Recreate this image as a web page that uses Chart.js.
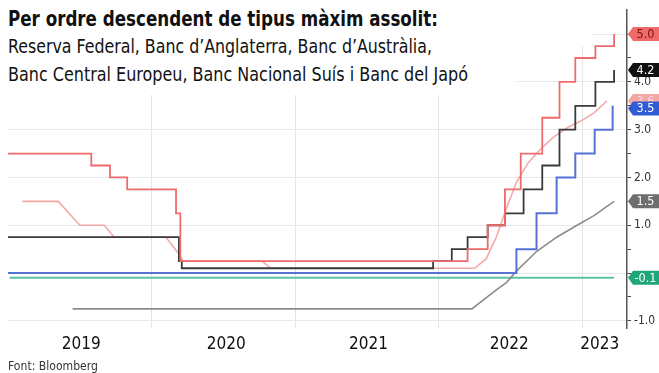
<!DOCTYPE html>
<html><head><meta charset="utf-8">
<script src="https://cdn.jsdelivr.net/npm/chart.js@4.4.0/dist/chart.umd.min.js"></script>
<style>
html,body{margin:0;padding:0;background:#fff;}
#wrap{position:relative;width:659px;height:373px;overflow:hidden;background:#fff;}
canvas{position:absolute;left:0;top:0;}
.mask{position:absolute;background:#fff;}
.txt{position:absolute;left:8px;white-space:nowrap;transform-origin:0 0;color:#111;line-height:1;font-family:'Liberation Sans Narrow','DejaVu Sans Condensed',sans-serif;}
</style></head><body>
<div id="wrap">
<canvas id="c" width="659" height="373"></canvas>
<div class="mask" style="left:0;top:0;width:517px;height:95px"></div>
<div class="mask" style="left:0;top:0;width:592px;height:46px"></div>
<div class="txt" data-w="430" style="top:8px;font-size:21.5px;font-weight:bold">Per ordre descendent de tipus màxim assolit:</div>
<div class="txt" data-w="424" style="top:37px;font-size:19px">Reserva Federal, Banc d’Anglaterra, Banc d’Austràlia,</div>
<div class="txt" data-w="460" style="top:65px;font-size:19px">Banc Central Europeu, Banc Nacional Suís i Banc del Japó</div>
<div class="txt" data-w="90" style="top:359px;font-size:13px;color:#333">Font: Bloomberg</div>
</div>
<script>
// ---- data (x = decimal year) ----
const fedX  = [2019.0, 2019.58, 2019.71, 2019.83, 2020.17, 2020.2, 2022.2, 2022.34, 2022.46, 2022.57, 2022.72, 2022.84, 2022.95, 2023.09, 2023.22];
const fedY  = [2.5, 2.25, 2.0, 1.75, 1.25, 0.25, 0.5, 1.0, 1.75, 2.5, 3.25, 4.0, 4.5, 4.75, 5.0];
const boeX  = [2019.0, 2020.19, 2020.21, 2021.96, 2022.09, 2022.2, 2022.34, 2022.46, 2022.59, 2022.72, 2022.84, 2022.95, 2023.09, 2023.22];
const boeY  = [0.75, 0.25, 0.1, 0.25, 0.5, 0.75, 1.0, 1.25, 1.75, 2.25, 3.0, 3.5, 4.0, 4.25];
const rbaX  = [2019.1, 2019.35, 2019.5, 2019.67, 2019.74, 2020.1, 2020.19, 2020.22, 2020.77, 2020.83, 2022.25, 2022.33, 2022.40, 2022.47, 2022.54, 2022.62, 2022.71, 2022.80, 2022.90, 2023.0, 2023.08, 2023.17];
const rbaY  = [1.5, 1.5, 1.0, 1.0, 0.75, 0.75, 0.4, 0.25, 0.25, 0.1, 0.1, 0.3, 0.75, 1.35, 1.9, 2.3, 2.6, 2.85, 3.05, 3.2, 3.35, 3.6];
const ecbX  = [2019.0, 2022.54, 2022.68, 2022.82, 2022.95, 2023.085, 2023.21];
const ecbY  = [0.0, 0.5, 1.25, 2.0, 2.5, 3.0, 3.5];
const snbX  = [2019.45, 2022.23, 2022.40, 2022.47, 2022.54, 2022.68, 2022.82, 2022.95, 2023.08, 2023.22];
const snbY  = [-0.75, -0.75, -0.35, -0.2, 0.04, 0.45, 0.75, 0.98, 1.2, 1.5];
const bojX  = [2019.01, 2023.22];
const bojY  = [-0.1, -0.1];
const endLabels = ['5.0', '4.2', '3.6', '3.5', '1.5', '-0.1'];

const yearGrid = [2020, 2021, 2022, 2023];
const yearLabelPos = [2019.51, 2020.52, 2021.51, 2022.49, 2023.12];
const yearLabels = ['2019', '2020', '2021', '2022', '2023'];
const yTicks = [-1, -0.5, 0, 0.5, 1, 1.5, 2, 2.5, 3, 3.5, 4, 4.5, 5];
const yTickLabels = ['-1.0', '', '', '', '1.0', '', '2.0', '', '3.0', '', '4.0', '', ''];

const X_MIN = 2019.0, X_MAX = 2023.31;
const FONT = "'Liberation Sans Narrow','DejaVu Sans Condensed',sans-serif";

const pts = (xs, ys) => xs.map((x, i) => ({x: x, y: ys[i]}));

const series = [
  {xs: fedX, ys: fedY, color: '#ee6b6b', width: 1.8, stepped: true, box: '#f06a6a', text: '#7a1010', lab: endLabels[0]},
  {xs: boeX, ys: boeY, color: '#3a3a3a', width: 1.8, stepped: true, box: '#111111', text: '#ffffff', lab: endLabels[1]},
  {xs: rbaX, ys: rbaY, color: '#f3aaa8', width: 1.6, stepped: false, box: '#f4a6a6', text: '#f9d2d2', lab: endLabels[2]},
  {xs: ecbX, ys: ecbY, color: '#5573d6', width: 2, stepped: true, box: '#2f5bd3', text: '#ffffff', lab: endLabels[3]},
  {xs: snbX, ys: snbY, color: '#8c8c8c', width: 1.6, stepped: false, box: '#6e6e6e', text: '#ffffff', lab: endLabels[4]},
  {xs: bojX, ys: bojY, color: '#5cc3a5', width: 2, stepped: false, box: '#1fa67a', text: '#ffffff', lab: endLabels[5]}
];

const endLabelPlugin = {
  id: 'endLabels',
  afterDraw(chart) {
    const ctx = chart.ctx, ys = chart.scales.y, ax = chart.chartArea.right;
    const items = series.map(s => ({y: ys.getPixelForValue(s.ys[s.ys.length - 1]), s: s}));
    items.sort((a, b) => a.y - b.y);
    for (let i = 1; i < items.length; i++) if (items[i].y < items[i - 1].y + 7.5) items[i].y = items[i - 1].y + 7.5;
    ctx.save();
    items.forEach(it => {
      const y = it.y, h = 7;
      ctx.beginPath();
      ctx.moveTo(ax + 1, y);
      ctx.lineTo(ax + 6, y - h);
      ctx.lineTo(662, y - h);
      ctx.lineTo(662, y + h);
      ctx.lineTo(ax + 6, y + h);
      ctx.closePath();
      ctx.fillStyle = it.s.box;
      ctx.fill();
      ctx.fillStyle = it.s.text;
      ctx.font = '12.5px ' + FONT;
      ctx.textBaseline = 'middle';
      ctx.textAlign = 'center';
      ctx.fillText(it.s.lab, 645.5, y + 0.5);
    });
    ctx.restore();
  }
};

new Chart(document.getElementById('c'), {
  type: 'line',
  data: {
    datasets: series.map(s => ({
      data: pts(s.xs, s.ys), borderColor: s.color, borderWidth: s.width,
      stepped: s.stepped, tension: 0, fill: false, pointRadius: 0
    }))
  },
  options: {
    responsive: false, animation: false, devicePixelRatio: 1,
    layout: {padding: {left: 8, top: 10, right: 0, bottom: 0}},
    plugins: {legend: {display: false}, tooltip: {enabled: false}},
    scales: {
      x: {
        type: 'linear', min: X_MIN, max: X_MAX, position: 'bottom',
        afterBuildTicks: a => { a.ticks = yearGrid.map(v => ({value: v})); },
        ticks: {display: false},
        grid: {color: '#e4e4e4', drawTicks: false, lineWidth: 1},
        border: {display: false},
        afterFit: a => { a.height = 0; }
      },
      x2: {
        type: 'linear', min: X_MIN, max: X_MAX, position: 'bottom',
        afterBuildTicks: a => { a.ticks = yearLabelPos.map(v => ({value: v})); },
        ticks: {callback: (v, i) => yearLabels[i], autoSkip: false, maxRotation: 0, padding: -2,
                color: '#111', font: {family: FONT, size: 17}},
        grid: {display: false},
        border: {display: false},
        afterFit: a => { a.height = 45; }
      },
      y: {
        type: 'linear', position: 'right', min: -1.15, max: 5.5,
        afterBuildTicks: a => { a.ticks = yTicks.map(v => ({value: v})); },
        ticks: {callback: (v, i) => yTickLabels[i], padding: 3,
                color: '#333', font: {family: FONT, size: 12}},
        grid: {color: c => (c.tick && Number.isInteger(c.tick.value)) ? '#e8e8e8' : 'rgba(0,0,0,0)',
               tickColor: '#444', tickLength: 4, drawTicks: true},
        border: {display: true, color: '#555', width: 1.5},
        afterFit: a => { a.width = 32; }
      }
    }
  },
  plugins: [endLabelPlugin]
});

document.querySelectorAll('.txt').forEach(el => {
  const w = el.getBoundingClientRect().width;
  const t = parseFloat(el.dataset.w);
  if (w > 0) el.style.transform = 'scaleX(' + (t / w) + ')';
});
</script>
</body></html>
